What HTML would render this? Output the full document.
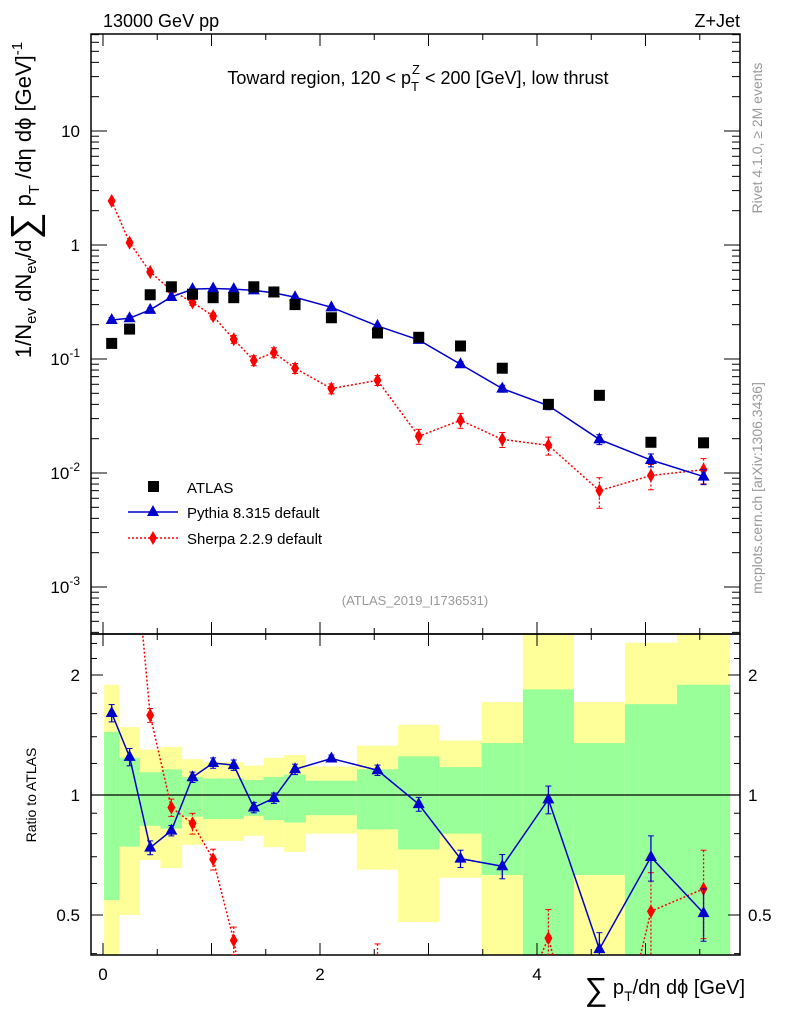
<!DOCTYPE html>
<html><head><meta charset="utf-8"><style>
html,body{margin:0;padding:0;background:#fff;overflow:hidden;width:786px;height:1024px;}
svg{display:block;overflow:hidden;}
svg text{font-family:"Liberation Sans",sans-serif;}
</style></head><body>
<svg id="c" width="786" height="1024" xmlns="http://www.w3.org/2000/svg">
<defs>
<clipPath id="mainclip"><rect x="91" y="34" width="649" height="599"/></clipPath>
<clipPath id="ratioclip"><rect x="91" y="635" width="649" height="320"/></clipPath>
</defs>
<g id="bands" clip-path="url(#ratioclip)"></g>
<g id="grid"></g>
<g id="series"></g>
<text x="103" y="27" font-size="18">13000 GeV pp</text>
<text x="740" y="27" font-size="18" text-anchor="end">Z+Jet</text>
<text x="418" y="84" font-size="18" text-anchor="middle">Toward region, 120 &lt; p<tspan dy="7" font-size="13">T</tspan><tspan dx="-7" dy="-17" font-size="13">Z</tspan><tspan dy="10"> &lt; 200 [GeV], low thrust</tspan></text>
<text x="415" y="605" font-size="13" fill="#999" text-anchor="middle">(ATLAS_2019_I1736531)</text>
<text transform="translate(762,138) rotate(-90)" font-size="14" fill="#999" text-anchor="middle">Rivet 4.1.0, ≥ 2M events</text>
<text transform="translate(762,488) rotate(-90)" font-size="14" fill="#999" text-anchor="middle">mcplots.cern.ch [arXiv:1306.3436]</text>
<text transform="translate(31,200) rotate(-90)" font-size="22" text-anchor="middle">1/N<tspan font-size="15" dy="5">ev</tspan><tspan dy="-5"> dN</tspan><tspan font-size="15" dy="5">ev</tspan><tspan dy="-5">/d</tspan><tspan font-size="38" dy="6">∑</tspan><tspan dy="-6"> p</tspan><tspan font-size="15" dy="8">T</tspan><tspan dy="-8"> /dη dϕ  [GeV]</tspan><tspan font-size="15" dy="-9">-1</tspan></text>
<text transform="translate(36,795) rotate(-90)" font-size="14" text-anchor="middle">Ratio to ATLAS</text>
<text x="745" y="994" font-size="20" text-anchor="end"><tspan font-size="32" dy="6">∑</tspan><tspan dy="-6"> p</tspan><tspan font-size="14" dy="7">T</tspan><tspan dy="-7">/dη dϕ [GeV]</tspan></text>
<g>
<rect x="148" y="481" width="11" height="11" fill="#000"/>
<text x="187" y="493" font-size="15">ATLAS</text>
<line x1="128" y1="512" x2="178" y2="512" stroke="#00c" stroke-width="1.5"/>
<polygon points="153,505 159,516 147,516" fill="#00c"/>
<text x="187" y="518" font-size="15">Pythia 8.315 default</text>
<line x1="128" y1="538" x2="178" y2="538" stroke="#f00" stroke-width="1.5" stroke-dasharray="2,2"/>
<polygon points="153,531 157,538 153,545 149,538" fill="#f00"/>
<text x="187" y="544" font-size="15">Sherpa 2.2.9 default</text>
</g>
</svg>
<script>
const binEdges=[0.01,0.15,0.34,0.53,0.73,0.92,1.11,1.30,1.48,1.67,1.87,2.34,2.72,3.10,3.49,3.87,4.34,4.81,5.29,5.78];
const atlasVals=[0.137,0.183,0.366,0.43,0.37,0.345,0.345,0.43,0.387,0.30,0.23,0.169,0.155,0.13,0.083,0.040,0.048,0.0186,0.0184];
const pythiaVals=[0.22,0.228,0.27,0.35,0.41,0.415,0.41,0.40,0.38,0.348,0.284,0.195,0.147,0.090,0.055,0.039,0.0197,0.013,0.0093];
const pythiaErr=[0.05,0.05,0.04,0.03,0.03,0.03,0.03,0.03,0.03,0.03,0.02,0.03,0.04,0.05,0.07,0.08,0.1,0.13,0.15];
const sherpaVals=[2.43,1.05,0.58,0.40,0.314,0.238,0.149,0.097,0.114,0.083,0.055,0.065,0.021,0.029,0.0197,0.0175,0.0070,0.0095,0.0107];
const sherpaErr=[0.03,0.03,0.04,0.05,0.06,0.06,0.08,0.1,0.1,0.1,0.1,0.1,0.15,0.15,0.15,0.18,0.3,0.25,0.25];
const band1Up=[1.44,1.24,1.14,1.16,1.11,1.10,1.10,1.09,1.11,1.125,1.086,1.16,1.25,1.175,1.35,1.84,1.35,1.69,1.89];
const band1Dn=[0.545,0.742,0.837,0.824,0.882,0.87,0.87,0.887,0.865,0.853,0.89,0.82,0.73,0.80,0.63,0.2,0.63,0.2,0.2];
const band2Up=[1.89,1.48,1.30,1.32,1.23,1.21,1.21,1.185,1.24,1.26,1.18,1.33,1.50,1.37,1.71,3,1.71,2.41,3];
const band2Dn=[0.2,0.50,0.687,0.656,0.75,0.767,0.767,0.79,0.74,0.72,0.80,0.65,0.48,0.62,0.2,0.2,0.2,0.2,0.2];
const xTicks=[0,2,4];
const yTicks=[0.001,0.01,0.1,1,10];
const rTicks=[0.5,1,2];

const NS="http://www.w3.org/2000/svg";
const X0=91,X1=740,Y0=34,Y1=634,R0=634,R1=955;
const sx=v=>103+v*108.5;
const sy=v=>245-114*Math.log10(v);
const sr=v=>795-120*Math.log2(v);
function mk(tag,attrs,parent){const e=document.createElementNS(NS,tag);for(const k in attrs)e.setAttribute(k,attrs[k]);parent.appendChild(e);return e;}
const grid=document.getElementById('grid'),bands=document.getElementById('bands'),series=document.getElementById('series');

for(let i=0;i<binEdges.length-1;i++){
  const xa=sx(binEdges[i]),xb=sx(binEdges[i+1]);
  const y=mk('rect',{x:xa,y:sr(band2Up[i]),width:xb-xa,height:sr(band2Dn[i])-sr(band2Up[i]),fill:'#ffff99'},bands);
  
  
  const g=mk('rect',{x:xa,y:sr(band1Up[i]),width:xb-xa,height:sr(band1Dn[i])-sr(band1Up[i]),fill:'#99ff99'},bands);
  
  
}
mk('rect',{x:X0,y:Y0,width:X1-X0,height:Y1-Y0,fill:'none',stroke:'#000','stroke-width':1.5},grid);
mk('rect',{x:X0,y:R0,width:X1-X0,height:R1-R0,fill:'none',stroke:'#000','stroke-width':1.5},grid);
mk('line',{x1:X0,x2:X1,y1:sr(1),y2:sr(1),stroke:'#000','stroke-width':1.2},grid);
for(let v=0;v<=5.8;v+=0.5){
  const x=sx(v),L=(Math.abs(v-Math.round(v))<1e-6)?12:6;
  [[Y0,1],[Y1,-1],[R0,1],[R1,-1]].forEach(([y,d])=>mk('line',{x1:x,x2:x,y1:y,y2:y+d*L,stroke:'#000'},grid));
}
xTicks.forEach(v=>{const t=mk('text',{x:sx(v),y:980,'font-size':17,'text-anchor':'middle'},grid);t.textContent=v;

});
for(let e=-4;e<=1;e++){for(let m=1;m<10;m++){const v=m*Math.pow(10,e);const y=sy(v);if(y<Y0||y>Y1)continue;const L=m==1?16:8;
mk('line',{x1:X0,x2:X0+L,y1:y,y2:y,stroke:'#000'},grid);mk('line',{x1:X1,x2:X1-L,y1:y,y2:y,stroke:'#000'},grid);}}
yTicks.forEach((v,i)=>{const t=mk('text',{x:80,y:sy(v)+6,'font-size':17,'text-anchor':'end'},grid);
if(v>=1){t.textContent=v;}else{t.textContent='10';const s=mk('tspan',{dy:-8,'font-size':12},t);s.textContent=String(Math.round(Math.log10(v)));}

});
[0.4,0.5,0.6,0.7,0.8,0.9,1,1.2,1.4,1.6,1.8,2,2.2,2.4].forEach(v=>{const y=sr(v);const L=rTicks.includes(v)?12:6;
mk('line',{x1:X0,x2:X0+L,y1:y,y2:y,stroke:'#000'},grid);mk('line',{x1:X1,x2:X1-L,y1:y,y2:y,stroke:'#000'},grid);});
rTicks.forEach(v=>{[[80,'end'],[748,'start']].forEach(([x,a])=>{const t=mk('text',{x:x,y:sr(v)+6,'font-size':17,'text-anchor':a},grid);t.textContent=v;

});});

const centers=binEdges.slice(0,-1).map((e,i)=>(e+binEdges[i+1])/2);
function drawSeries(vals,errs,scale,clip,color,dash,marker,name){
  const g=mk('g',{'clip-path':'url(#'+clip+')'},series);
  
  
  const pts=vals.map((v,i)=>sx(centers[i])+','+scale(v)).join(' ');
  const attrs={points:pts,fill:'none',stroke:color,'stroke-width':1.5};if(dash)attrs['stroke-dasharray']=dash;
  mk('polyline',attrs,g);
  vals.forEach((v,i)=>{const x=sx(centers[i]),y=scale(v);
    if(errs){const ya=scale(v*(1+errs[i])),yb=scale(v*(1-errs[i]));
      const ea={x1:x,x2:x,y1:ya,y2:yb,stroke:color,'stroke-width':1.3};if(dash)ea['stroke-dasharray']=dash;mk('line',ea,g);
      mk('line',{x1:x-3,x2:x+3,y1:ya,y2:ya,stroke:color},g);mk('line',{x1:x-3,x2:x+3,y1:yb,y2:yb,stroke:color},g);}
    let m;
    if(marker=='tri')m=mk('polygon',{points:`${x},${y-7} ${x+6},${y+4} ${x-6},${y+4}`,fill:color},g);
    else m=mk('polygon',{points:`${x},${y-7} ${x+4},${y} ${x},${y+7} ${x-4},${y}`,fill:color},g);
    
    
  });
}
drawSeries(sherpaVals,sherpaErr,sy,'mainclip','#f00','2,2','dia','sherpa-main');
drawSeries(pythiaVals,pythiaErr,sy,'mainclip','#00c',null,'tri','pythia-main');
atlasVals.forEach((v,i)=>{const r=mk('rect',{x:sx(centers[i])-5.5,y:sy(v)-5.5,width:11,height:11,fill:'#000'},series);

});
const sherpaRatio=sherpaVals.map((v,i)=>v/atlasVals[i]);
const pythiaRatio=pythiaVals.map((v,i)=>v/atlasVals[i]);
drawSeries(sherpaRatio,sherpaErr,sr,'ratioclip','#f00','2,2','dia','sherpa-ratio');
drawSeries(pythiaRatio,pythiaErr,sr,'ratioclip','#00c',null,'tri','pythia-ratio');
</script>
</body></html>
